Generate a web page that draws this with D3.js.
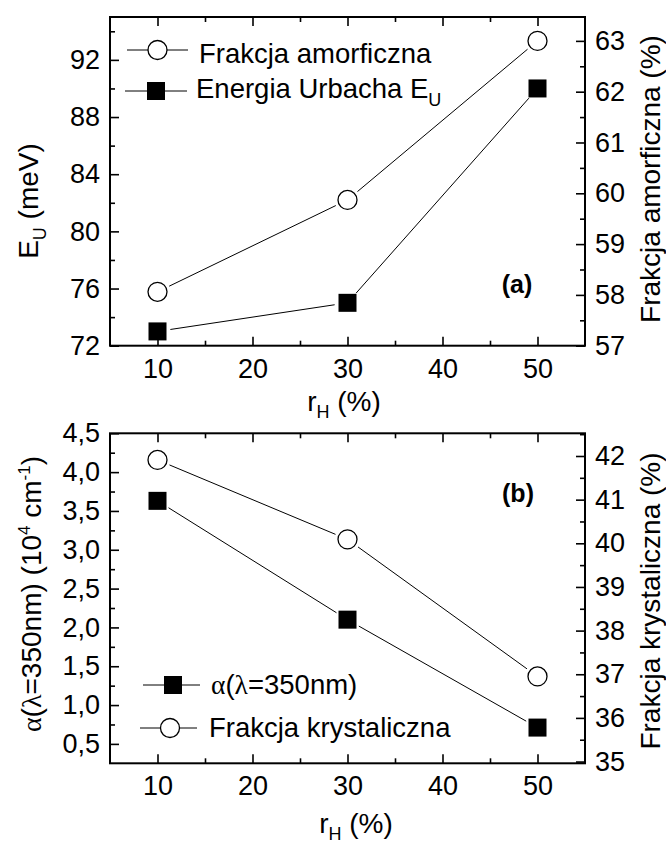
<!DOCTYPE html>
<html><head><meta charset="utf-8">
<script src="https://cdn.jsdelivr.net/npm/d3@7"></script>
<style>body{margin:0;background:#fff}svg{display:block}text{font-family:"Liberation Sans",Arial,sans-serif;fill:#000}</style>
</head><body>
<script>
// ---- data ----
const rH = [10, 30, 50];
// panel (a)
const amorphousFraction = [58.06, 59.87, 63.0];   // right axis (%)
const urbachEnergy = [73.0, 75.0, 90.0];            // left axis (meV)
// panel (b)
const alpha350 = [3.63, 2.10, 0.71];                // left axis (10^4 cm^-1)
const crystallineFraction = [41.91, 40.09, 36.95];  // right axis (%)
// ticks
const xTicks = [10, 20, 30, 40, 50];
const xMinor = [15, 25, 35, 45];
const aLeftTicks = [72, 76, 80, 84, 88, 92];
const aLeftMinor = [74, 78, 82, 86, 90, 94];
const aRightTicks = [57, 58, 59, 60, 61, 62, 63];
const aRightMinor = [57.5, 58.5, 59.5, 60.5, 61.5, 62.5];
const bLeftTicks = [0.5, 1.0, 1.5, 2.0, 2.5, 3.0, 3.5, 4.0, 4.5];
const bLeftMinor = [0.75, 1.25, 1.75, 2.25, 2.75, 3.25, 3.75, 4.25];
const bRightTicks = [35, 36, 37, 38, 39, 40, 41, 42];
const bRightMinor = [35.5, 36.5, 37.5, 38.5, 39.5, 40.5, 41.5, 42.5];

const W = 666, H = 846;
const FS_TICK = 27, FS_TXT = 28, FS_LEG = 27.5, FS_SUB = 18;
const svg = d3.select("body").append("svg").attr("width", W).attr("height", H);

const L = 110, R = 585;
const x = d3.scaleLinear().domain([5, 55]).range([L, R]);

function panel(cfg) {
  const g = svg.append("g");
  const top = cfg.top, bot = cfg.bottom;
  const yL = d3.scaleLinear().domain(cfg.leftDomain).range([bot, top]);
  const yR = d3.scaleLinear().domain(cfg.rightDomain).range([bot, top]);
  function styleAxis(sel) {
    sel.select(".domain").remove();
    sel.selectAll(".tick line").attr("stroke", "#000").attr("stroke-width", 1.6);
    sel.selectAll(".tick text").attr("font-size", FS_TICK).attr("font-family", '"Liberation Sans",Arial,sans-serif').attr("fill", "#000");
  }
  // bottom axis
  g.append("g").attr("transform", `translate(0,${bot})`)
    .call(d3.axisBottom(x).tickValues(xTicks).tickSize(-9).tickPadding(13).tickFormat(d3.format("d")))
    .call(styleAxis);
  g.append("g").attr("transform", `translate(0,${bot})`)
    .call(d3.axisBottom(x).tickValues(xMinor).tickSize(-5).tickFormat(""))
    .call(styleAxis);
  // top mirrored
  g.append("g").attr("transform", `translate(0,${top})`)
    .call(d3.axisTop(x).tickValues(xTicks).tickSize(-9).tickFormat(""))
    .call(styleAxis);
  g.append("g").attr("transform", `translate(0,${top})`)
    .call(d3.axisTop(x).tickValues(xMinor).tickSize(-5).tickFormat(""))
    .call(styleAxis);
  // left
  g.append("g").attr("transform", `translate(${L},0)`)
    .call(d3.axisLeft(yL).tickValues(cfg.leftTicks).tickSize(-9).tickPadding(10).tickFormat(cfg.leftFmt))
    .call(styleAxis);
  g.append("g").attr("transform", `translate(${L},0)`)
    .call(d3.axisLeft(yL).tickValues(cfg.leftMinor).tickSize(-5).tickFormat(""))
    .call(styleAxis);
  // right
  g.append("g").attr("transform", `translate(${R},0)`)
    .call(d3.axisRight(yR).tickValues(cfg.rightTicks).tickSize(-9).tickPadding(10).tickFormat(d3.format("d")))
    .call(styleAxis);
  g.append("g").attr("transform", `translate(${R},0)`)
    .call(d3.axisRight(yR).tickValues(cfg.rightMinor).tickSize(-5).tickFormat(""))
    .call(styleAxis);
  // frame
  g.append("rect").attr("x", L).attr("y", top).attr("width", R - L).attr("height", bot - top)
    .attr("fill", "none").attr("stroke", "#000").attr("stroke-width", 2);

  // series
  const gap = 13;
  function series(vals, yS, shape) {
    const pts = rH.map((d, i) => [x(d), yS(vals[i])]);
    for (let i = 0; i < pts.length - 1; i++) {
      const [x1, y1] = pts[i], [x2, y2] = pts[i + 1];
      const len = Math.hypot(x2 - x1, y2 - y1), ux = (x2 - x1) / len, uy = (y2 - y1) / len;
      g.append("line").attr("x1", x1 + ux * gap).attr("y1", y1 + uy * gap)
        .attr("x2", x2 - ux * gap).attr("y2", y2 - uy * gap)
        .attr("stroke", "#000").attr("stroke-width", 1);
    }
    pts.forEach(p => marker(g, p[0], p[1], shape));
  }
  series(cfg.s1.vals, cfg.s1.axis === "L" ? yL : yR, cfg.s1.shape);
  series(cfg.s2.vals, cfg.s2.axis === "L" ? yL : yR, cfg.s2.shape);
  return g;
}

function marker(g, cx, cy, shape) {
  if (shape === "circle") {
    g.append("circle").attr("cx", cx).attr("cy", cy).attr("r", 9.5)
      .attr("fill", "#fff").attr("stroke", "#000").attr("stroke-width", 1.3);
  } else {
    g.append("rect").attr("x", cx - 9).attr("y", cy - 9).attr("width", 18).attr("height", 18)
      .attr("fill", "#000");
  }
}

function legendRow(g, x1, x2, cx, cy, shape, tx, ty, build) {
  g.append("line").attr("x1", x1).attr("x2", x2).attr("y1", cy).attr("y2", cy)
    .attr("stroke", "#000").attr("stroke-width", 1);
  marker(g, cx, cy, shape);
  const t = g.append("text").attr("x", tx).attr("y", ty).attr("font-size", FS_LEG);
  build(t);
}

// ---- panel (a) ----
const ga = panel({
  top: 17, bottom: 345.7,
  leftDomain: [72, 95], rightDomain: [57, 63.47],
  leftTicks: aLeftTicks, leftMinor: aLeftMinor, leftFmt: d3.format("d"),
  rightTicks: aRightTicks, rightMinor: aRightMinor,
  s1: { vals: amorphousFraction, axis: "R", shape: "circle" },
  s2: { vals: urbachEnergy, axis: "L", shape: "square" }
});
legendRow(ga, 127, 188, 157.5, 50, "circle", 199, 63, t => t.text("Frakcja amorficzna"));
legendRow(ga, 125, 187, 156, 91, "square", 196, 98, t => {
  t.append("tspan").text("Energia Urbacha E");
  t.append("tspan").attr("font-size", FS_SUB).attr("dy", 8).text("U");
});
ga.append("text").attr("x", 517).attr("y", 293).attr("text-anchor", "middle")
  .attr("font-size", 25).attr("font-weight", "bold").text("(a)");

// ---- panel (b) ----
const gb = panel({
  top: 433.3, bottom: 763.3,
  leftDomain: [0.25, 4.5], rightDomain: [34.96, 42.52],
  leftTicks: bLeftTicks, leftMinor: bLeftMinor, leftFmt: d => d3.format(".1f")(d).replace(".", ","),
  rightTicks: bRightTicks, rightMinor: bRightMinor,
  s1: { vals: crystallineFraction, axis: "R", shape: "circle" },
  s2: { vals: alpha350, axis: "L", shape: "square" }
});
legendRow(gb, 143, 200, 173, 685, "square", 211, 694, t => {
  t.append("tspan").attr("font-family", '"Liberation Serif",serif').text("α");
  t.append("tspan").text("(");
  t.append("tspan").attr("font-family", '"Liberation Serif",serif').text("λ");
  t.append("tspan").text("=350nm)");
});
legendRow(gb, 140, 197, 170, 728, "circle", 209, 737, t => t.text("Frakcja krystaliczna"));
gb.append("text").attr("x", 518).attr("y", 502).attr("text-anchor", "middle")
  .attr("font-size", 25).attr("font-weight", "bold").text("(b)");

// ---- axis titles ----
function xTitle(cx, by) {
  const t = svg.append("text").attr("x", cx).attr("y", by).attr("text-anchor", "middle").attr("font-size", FS_TXT);
  t.append("tspan").text("r");
  t.append("tspan").attr("font-size", FS_SUB).attr("dy", 7).text("H");
  t.append("tspan").attr("dy", -7).text(" (%)");
}
xTitle(344, 411);
xTitle(356, 833);

function yTitle(cx, cy, build) {
  const t = svg.append("text").attr("transform", `translate(${cx},${cy}) rotate(-90)`)
    .attr("text-anchor", "middle").attr("font-size", FS_TXT);
  build(t);
}
yTitle(38, 201, t => {
  t.append("tspan").text("E");
  t.append("tspan").attr("font-size", FS_SUB).attr("dy", 8).text("U");
  t.append("tspan").attr("dy", -8).text(" (meV)");
});
yTitle(660, 179, t => t.text("Frakcja amorficzna (%)"));
yTitle(41, 594, t => {
  t.append("tspan").attr("font-family", '"Liberation Serif",serif').text("α");
  t.append("tspan").text("(");
  t.append("tspan").attr("font-family", '"Liberation Serif",serif').text("λ");
  t.append("tspan").text("=350nm) (10");
  t.append("tspan").attr("font-size", 17).attr("dy", -11).text("4");
  t.append("tspan").attr("dy", 11).text(" cm");
  t.append("tspan").attr("font-size", 17).attr("dy", -11).text("-1");
  t.append("tspan").attr("dy", 11).text(")");
});
yTitle(660, 601, t => t.text("Frakcja krystaliczna (%)"));
</script>
</body></html>
